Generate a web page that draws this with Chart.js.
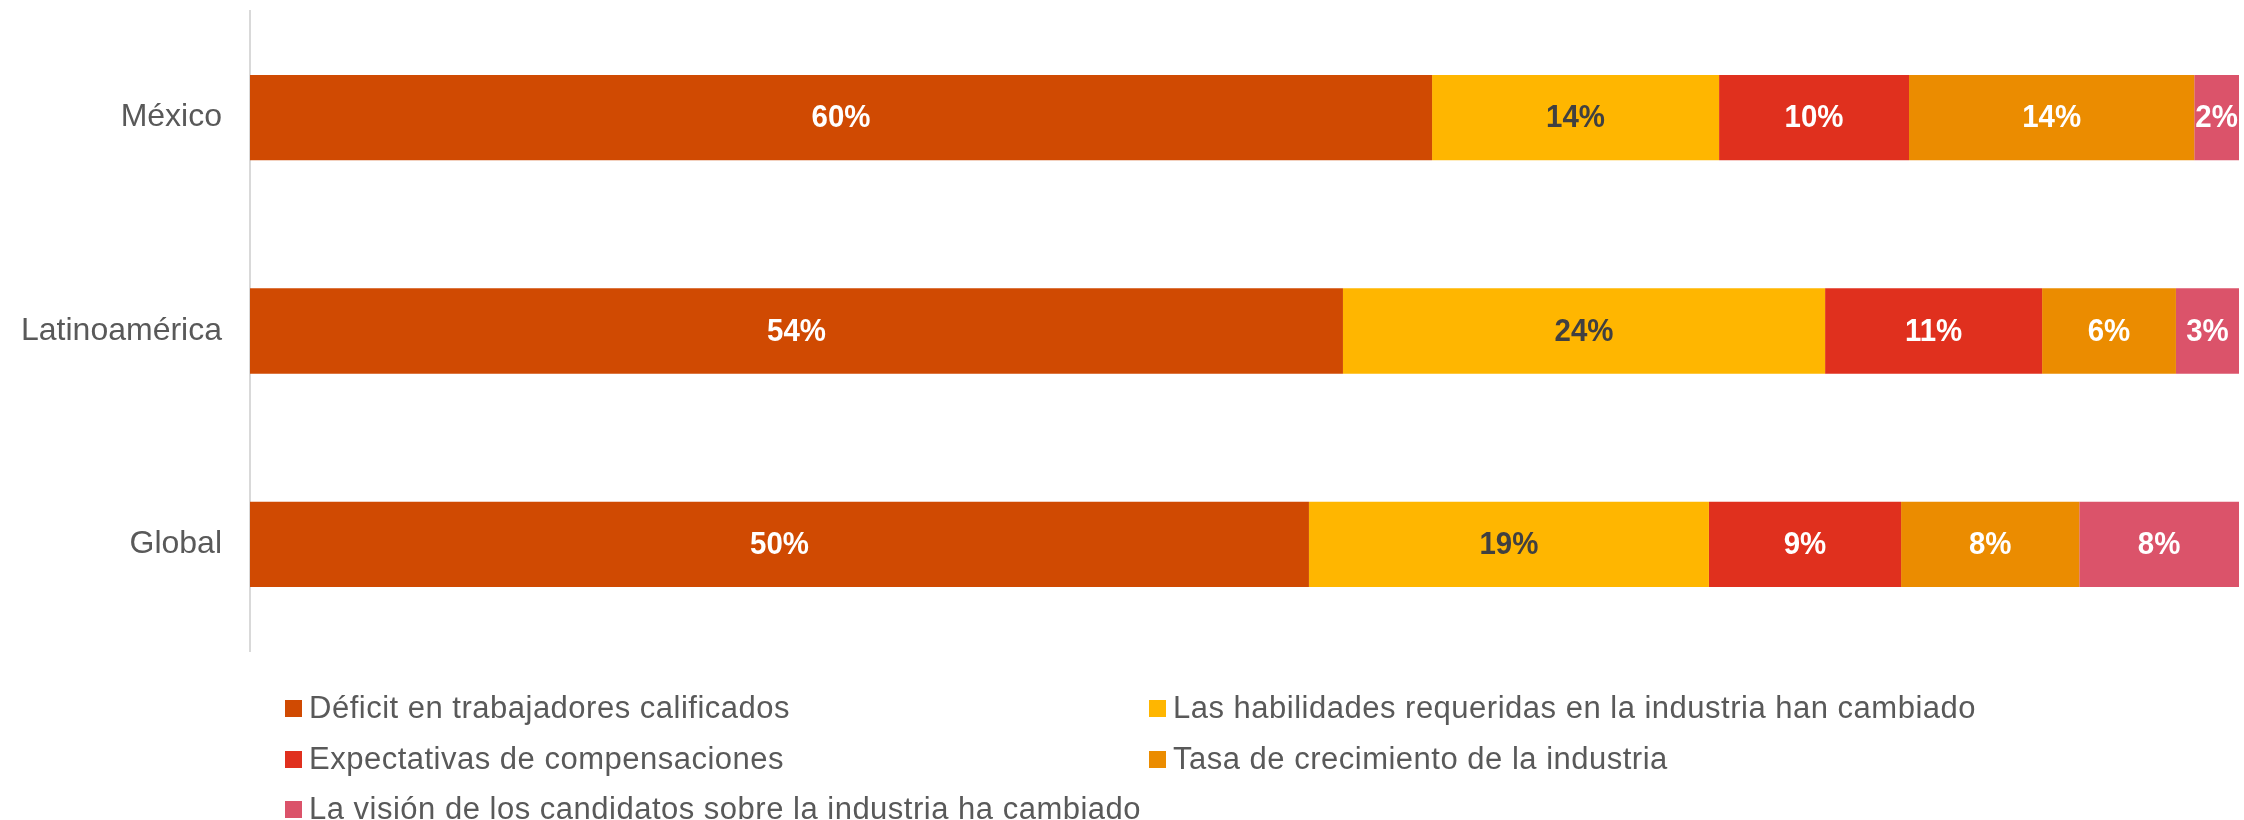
<!DOCTYPE html>
<html><head><meta charset="utf-8">
<script src="https://cdn.jsdelivr.net/npm/chart.js@4/dist/chart.umd.min.js"></script>
<style>html,body{margin:0;padding:0;background:#fff}#wrap{width:2244px;height:820px;position:relative}</style>
</head><body><div id="wrap"><canvas id="c" width="2244" height="820"></canvas></div>
<script>
const categories = ["México", "Latinoamérica", "Global"];
const seriesNames = [
  "Déficit en trabajadores calificados",
  "Las habilidades requeridas en la industria han cambiado",
  "Expectativas de compensaciones",
  "Tasa de crecimiento de la industria",
  "La visión de los candidatos sobre la industria ha cambiado"
];
// bar shares (100% stacked)
const deficit      = [59.43, 54.95, 53.24];
const habilidades  = [14.43, 24.24, 20.11];
const expectativas = [9.55, 10.91, 9.66];
const tasa         = [14.34, 6.73, 8.96];
const vision       = [2.25, 3.17, 8.03];
// data labels as printed on the bars
const deficitLabels      = ["60%", "54%", "50%"];
const habilidadesLabels  = ["14%", "24%", "19%"];
const expectativasLabels = ["10%", "11%", "9%"];
const tasaLabels         = ["14%", "6%", "8%"];
const visionLabels       = ["2%", "3%", "8%"];

const seriesColors = ["#D04A02", "#FFB600", "#E0301E", "#EB8C00", "#DB536A"];
const labelColors  = ["#FFFFFF", "#404041", "#FFFFFF", "#FFFFFF", "#FFFFFF"];

const values = [deficit, habilidades, expectativas, tasa, vision];
const labelTexts = [deficitLabels, habilidadesLabels, expectativasLabels, tasaLabels, visionLabels];
const datasets = values.map((arr, k) => ({
  label: seriesNames[k],
  data: arr,
  backgroundColor: seriesColors[k],
  borderWidth: 0,
  barPercentage: 0.4,
  categoryPercentage: 1.0
}));

const valueLabels = {
  id: 'valueLabels',
  afterDatasetsDraw(chart) {
    const ctx = chart.ctx;
    chart.data.datasets.forEach((ds, k) => {
      const meta = chart.getDatasetMeta(k);
      meta.data.forEach((el, i) => {
        const x = (el.x + el.base) / 2;
        ctx.save();
        ctx.translate(x, el.y + 1);
        ctx.scale(0.92, 1);
        ctx.font = 'bold 32px "Liberation Sans", Arial, sans-serif';
        ctx.textAlign = 'center';
        ctx.textBaseline = 'middle';
        ctx.fillStyle = labelColors[k];
        ctx.fillText(labelTexts[k][i], 0, 0);
        ctx.restore();
      });
    });
  }
};

const gridLegend = {
  id: 'gridLegend',
  afterDraw(chart) {
    const ctx = chart.ctx;
    const colX = [285, 1149];
    const rowY = [708, 759, 809];
    ctx.save();
    ctx.font = '31px "Liberation Sans", Arial, sans-serif';
    try { ctx.letterSpacing = '0.5px'; } catch (e) {}
    ctx.textBaseline = 'middle';
    ctx.textAlign = 'left';
    seriesNames.forEach((name, k) => {
      const x = colX[k % 2], y = rowY[Math.floor(k / 2)];
      ctx.fillStyle = seriesColors[k];
      ctx.fillRect(x, y - 8, 17, 17);
      ctx.fillStyle = '#595959';
      ctx.fillText(name, x + 24, y + 1);
    });
    ctx.restore();
  }
};

new Chart(document.getElementById('c'), {
  type: 'bar',
  data: { labels: categories, datasets },
  options: {
    indexAxis: 'y',
    responsive: false,
    animation: false,
    layout: { padding: { top: 11, right: 5, bottom: 169, left: 0 } },
    plugins: { legend: { display: false }, tooltip: { enabled: false } },
    scales: {
      x: { stacked: true, display: false, min: 0, max: 100 },
      y: {
        stacked: true,
        grid: { display: false, drawTicks: true, tickLength: 28 },
        border: { display: true, color: '#D9D9D9', width: 2 },
        ticks: { color: '#595959', font: { family: '"Liberation Sans", Arial, sans-serif', size: 32, lineHeight: 0.5 }, padding: 0 },
        afterFit(scale) { scale.width = 250; }
      }
    }
  },
  plugins: [valueLabels, gridLegend]
});
</script></body></html>
